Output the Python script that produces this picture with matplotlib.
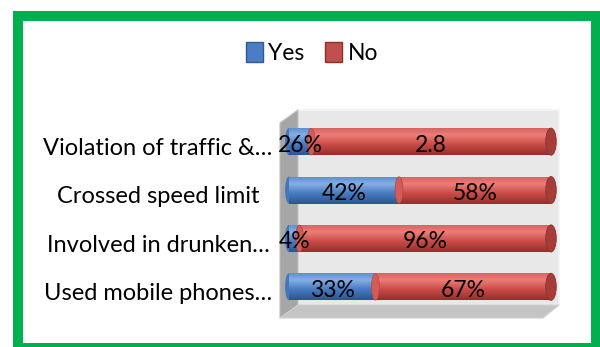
import numpy as np
import matplotlib
matplotlib.use("Agg")
import matplotlib.pyplot as plt
from matplotlib.patches import Rectangle, Polygon, Ellipse, Patch
from matplotlib.transforms import ScaledTranslation

plt.rcParams['font.family'] = ['Lato', 'DejaVu Sans']

# ---- data ----
categories = ["Violation of traffic &…", "Crossed speed limit",
              "Involved in drunken…", "Used mobile phones…"]
yes_values = [0.26, 42, 4, 33]
no_values = [2.8, 58, 96, 67]
yes_labels = ["26%", "42%", "4%", "33%"]
no_labels = ["2.8", "58%", "96%", "67%"]
series_names = ["Yes", "No"]

# ---- helpers (pixel -> figure fraction) ----
W, H = 600, 347
def fx(x): return x / W
def fy(y): return 1 - y / H

fig = plt.figure(figsize=(6, 3.47), dpi=100)
fig.patch.set_facecolor('white')

# green frame
green = '#00b050'
for (x0, y0, x1, y1) in [(13, 11, 23, 347), (13, 11, 600, 21), (591, 11, 600, 347), (13, 343, 600, 347)]:
    fig.patches.append(Rectangle((fx(x0), fy(y1)), fx(x1) - fx(x0), fy(y0) - fy(y1),
                                 transform=fig.transFigure, facecolor=green, edgecolor='none', zorder=5))

# 3D walls
back = Rectangle((fx(298), fy(305)), fx(559) - fx(298), fy(110) - fy(305), transform=fig.transFigure,
                 facecolor='#e8e8e8', edgecolor='#f4f4f4', linewidth=1.5, zorder=0)
side = Polygon([(fx(280), fy(123)), (fx(298), fy(110)), (fx(298), fy(305)), (fx(280), fy(318))],
               closed=True, transform=fig.transFigure, facecolor='#a6a6a6', edgecolor='#bdbdbd',
               linewidth=0.8, zorder=0)
floor = Polygon([(fx(280), fy(318)), (fx(298), fy(305)), (fx(559), fy(305)), (fx(543), fy(318))],
                closed=True, transform=fig.transFigure, facecolor='#c4c4c4', edgecolor='#d0d0d0',
                linewidth=0.8, zorder=0)
for p in (back, side, floor):
    fig.patches.append(p)

# ---- axes for bars ----
AX_L, AX_R = 289, 551
ax = fig.add_axes([fx(AX_L), fy(311), fx(AX_R) - fx(AX_L), fy(117.5) - fy(311)])
ax.set_facecolor('none')
ax.set_zorder(2)
for s in ax.spines.values():
    s.set_visible(False)

yes = np.array(yes_values, dtype=float)
no = np.array(no_values, dtype=float)
tot = yes + no
yes_pct = yes / tot * 100
no_pct = no / tot * 100
ypos = np.arange(len(categories))
bh = 0.56

blue, red = '#4a7dc2', '#cc4e4a'
bars_yes = ax.barh(ypos, yes_pct, height=bh, color=blue, zorder=3)
bars_no = ax.barh(ypos, no_pct, left=yes_pct, height=bh, color=red, zorder=3)

def grad(stops):
    t = np.linspace(0, 1, 64)
    pos = [s[0] for s in stops]
    cols = [matplotlib.colors.to_rgb(s[1]) for s in stops]
    arr = np.zeros((64, 1, 3))
    for c in range(3):
        arr[:, 0, c] = np.interp(t, pos, [col[c] for col in cols])
    return arr

g_blue = grad([(0, '#5a8bcf'), (0.28, '#86afe3'), (0.6, '#4a7dc2'), (1, '#2c5590')])
g_red = grad([(0, '#d4625e'), (0.28, '#ec7d78'), (0.6, '#cc4e4a'), (1, '#962e2b')])

for bars, g in ((bars_yes, g_blue), (bars_no, g_red)):
    for b in bars:
        x0, y0, w, h = b.get_x(), b.get_y(), b.get_width(), b.get_height()
        im = ax.imshow(g, extent=[x0, x0 + w, y0 + h, y0], aspect='auto', zorder=3.1, interpolation='bilinear')
        im.set_clip_path(b)

# rounded left ends and right caps
for b in bars_yes:
    x0, y0, h = b.get_x(), b.get_y(), b.get_height()
    ax.add_patch(Ellipse((x0, y0 + h / 2), 3.0, h, facecolor='#4476bb', edgecolor='none', zorder=2.9, clip_on=False))
for b in bars_no:
    x0, y0, w, h = b.get_x(), b.get_y(), b.get_width(), b.get_height()
    ax.add_patch(Ellipse((x0, y0 + h / 2), 3.0, h * 0.98, facecolor='#d25c58', edgecolor='#b9433f',
                         linewidth=0.5, zorder=3.15, clip_on=False))
    ax.add_patch(Ellipse((x0 + w, y0 + h / 2), 4.0, h, facecolor='#a53d3a', edgecolor='#8e2f2c',
                         linewidth=0.6, zorder=3.2, clip_on=False))

for bars, labs in ((bars_yes, yes_labels), (bars_no, no_labels)):
    anns = ax.bar_label(bars, labels=labs, label_type='center', fontsize=16.5, color='black', zorder=5)
    for a in anns:
        a.xyann = (0, -2.5)

ax.set_xlim(0, 100)
ax.set_ylim(len(categories) - 0.5, -0.5)
ax.set_xticks([])
ax.set_yticks(ypos)
ax.set_yticklabels(categories, fontsize=17)
ax.tick_params(axis='y', length=0, pad=(AX_L - 158) * 0.72)
shift = ScaledTranslation(0, -3.5 / 72, fig.dpi_scale_trans)
for lab in ax.get_yticklabels():
    lab.set_ha('center')
    lab.set_transform(lab.get_transform() + shift)

# legend
handles = [Patch(facecolor=blue, edgecolor='#2f5b94', linewidth=1.0),
           Patch(facecolor='#c0504d', edgecolor='#8c2f2c', linewidth=1.0)]
fig.legend(handles, series_names, loc='center', bbox_to_anchor=(fx(312), fy(53)), ncol=2,
           frameon=False, fontsize=16.5, handlelength=0.72, handleheight=0.95,
           handletextpad=0.25, columnspacing=0.9)

fig.savefig('out.png', dpi=100)
